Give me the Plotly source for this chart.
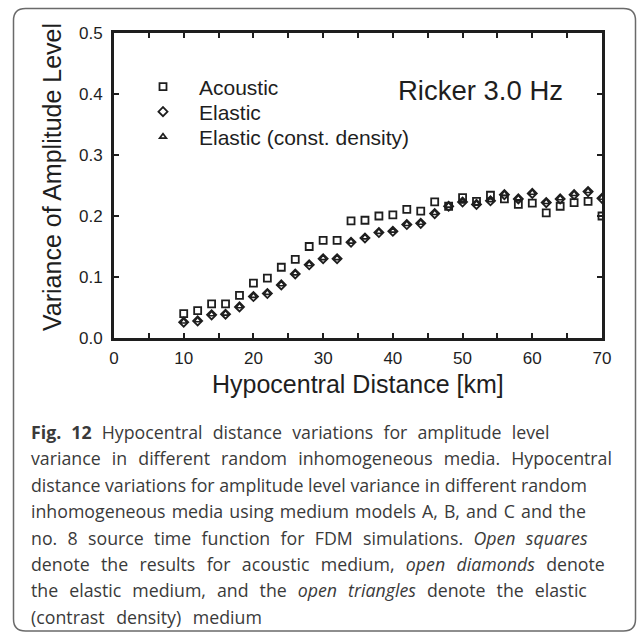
import plotly.graph_objects as go

distance = [10, 12, 14, 16, 18, 20, 22, 24, 26, 28, 30, 32, 34, 36, 38, 40,
            42, 44, 46, 48, 50, 52, 54, 56, 58, 60, 62, 64, 66, 68, 70]
acoustic = [0.040, 0.045, 0.056, 0.056, 0.070, 0.090, 0.098, 0.116, 0.129, 0.150,
            0.160, 0.160, 0.192, 0.193, 0.200, 0.202, 0.211, 0.208, 0.223, 0.216,
            0.230, 0.224, 0.234, 0.228, 0.219, 0.221, 0.205, 0.216, 0.222, 0.224, 0.200]
elastic = [0.026, 0.028, 0.038, 0.039, 0.051, 0.068, 0.073, 0.087, 0.105, 0.120,
           0.130, 0.130, 0.157, 0.164, 0.173, 0.175, 0.186, 0.188, 0.204, 0.216,
           0.223, 0.219, 0.225, 0.235, 0.228, 0.237, 0.222, 0.228, 0.235, 0.240, 0.229]
elastic_cd = [0.027, 0.029, 0.039, 0.040, 0.052, 0.069, 0.074, 0.088, 0.106, 0.121,
              0.131, 0.131, 0.158, 0.165, 0.174, 0.176, 0.187, 0.189, 0.205, 0.217,
              0.224, 0.220, 0.226, 0.236, 0.229, 0.238, 0.223, 0.229, 0.236, 0.241, 0.230]
series_names = ["Acoustic", "Elastic", "Elastic (const. density)"]

caption_lines = [
    "<b>Fig. 12</b> Hypocentral distance variations for amplitude level",
    "variance in different random inhomogeneous media. Hypocentral",
    "distance variations for amplitude level variance in different random",
    "inhomogeneous media using medium models A, B, and C and the",
    "no. 8 source time function for FDM simulations. <i>Open squares</i>",
    "denote the results for acoustic medium, <i>open diamonds</i> denote",
    "the elastic medium, and the <i>open triangles</i> denote the elastic",
    "(contrast density) medium",
]
caption_word_spacing = [5.5, 6.5, 0, 1.5, 5.7, 6.7, 6.4, 7]

W, H = 637, 634
L, R, T, B = 114, 602, 33, 338
PW, PH = R - L, B - T


def px2x(px):
    return (px - L) / PW


def py2y(py):
    return (B - py) / PH


INK = "#1e1e1e"
FONT = "Liberation Sans, Arial"
fig = go.Figure()
symbols = ["square-open", "diamond-open", "triangle-up-open"]
sizes = [7, 7, 6]
widths = [1.8, 1.8, 1.6]
legends = ["legend", "legend2", "legend3"]
for name, vals, sym, sz, lw, lg in zip(series_names, [acoustic, elastic, elastic_cd],
                                       symbols, sizes, widths, legends):
    fig.add_trace(go.Scatter(
        x=distance, y=vals, mode="markers", name=name, legend=lg,
        marker=dict(symbol=sym, size=sz, color=INK, line=dict(width=lw, color=INK)),
        cliponaxis=True,
    ))

leg_rows = [87, 112, 137]
leg_common = dict(xanchor="left", yanchor="middle", bgcolor="rgba(0,0,0,0)",
                  borderwidth=0, font=dict(family=FONT, size=21, color=INK),
                  itemwidth=62)
layout_legends = {}
for lg, ry in zip(legends, leg_rows):
    layout_legends[lg] = dict(x=px2x(127), y=py2y(ry), **leg_common)

axis_common = dict(
    showline=True, linewidth=3, linecolor=INK, mirror="ticks",
    ticks="inside", ticklen=5, tickwidth=1.5, tickcolor=INK,
    showgrid=False, zeroline=False,
    tickfont=dict(family=FONT, size=17, color=INK),
)

fig.update_layout(
    width=W, height=H,
    margin=dict(l=L, r=W - R, t=T, b=H - B),
    paper_bgcolor="white", plot_bgcolor="white",
    showlegend=True,
    xaxis=dict(range=[0, 70], dtick=10, tick0=0, ticklabelstandoff=3,
               minor=dict(dtick=5, ticks="inside", ticklen=5, tickwidth=1.5, tickcolor=INK),
               **axis_common),
    yaxis=dict(range=[0, 0.5], dtick=0.1, tick0=0, tickformat=".1f", ticklabelstandoff=5,
               **axis_common),
    **layout_legends,
)

annotations = [
    dict(text="Hypocentral Distance [km]", x=px2x(358), y=py2y(384), xref="paper", yref="paper",
         showarrow=False, xanchor="center", yanchor="middle",
         font=dict(family=FONT, size=25, color=INK)),
    dict(text="Variance of Amplitude Level", x=px2x(52), y=py2y(177), xref="paper", yref="paper",
         showarrow=False, xanchor="center", yanchor="middle", textangle=-90,
         font=dict(family=FONT, size=25, color=INK)),
    dict(text="Ricker 3.0 Hz", x=px2x(480), y=py2y(90), xref="paper", yref="paper",
         showarrow=False, xanchor="center", yanchor="middle",
         font=dict(family=FONT, size=27.5, color=INK)),
]
cap_y0, cap_dy = 432, 26.4
for i, (line, ws) in enumerate(zip(caption_lines, caption_word_spacing)):
    annotations.append(dict(
        text=f'<span style="word-spacing:{ws}px">{line}</span>',
        x=px2x(29), y=py2y(cap_y0 + i * cap_dy), xref="paper", yref="paper",
        showarrow=False, xanchor="left", yanchor="middle", align="left",
        font=dict(family="Open Sans", size=17.75, color="#3a3a3a")))
fig.update_layout(annotations=annotations)


def P(px, py):
    return f"{px2x(px):.5f},{py2y(py):.5f}"


# outer rounded frame around figure and caption
bx0, bx1, by0, by1, rr = 13.5, 635.5, 8.5, 631, 12
path = (f"M {P(bx0 + rr, by0)} L {P(bx1 - rr, by0)} Q {P(bx1, by0)} {P(bx1, by0 + rr)} "
        f"L {P(bx1, by1 - rr)} Q {P(bx1, by1)} {P(bx1 - rr, by1)} "
        f"L {P(bx0 + rr, by1)} Q {P(bx0, by1)} {P(bx0, by1 - rr)} "
        f"L {P(bx0, by0 + rr)} Q {P(bx0, by0)} {P(bx0 + rr, by0)} Z")
fig.add_shape(type="path", path=path, xref="paper", yref="paper",
              line=dict(color="#6a6a6a", width=1.5), layer="below")

fig.write_html("out.html")
